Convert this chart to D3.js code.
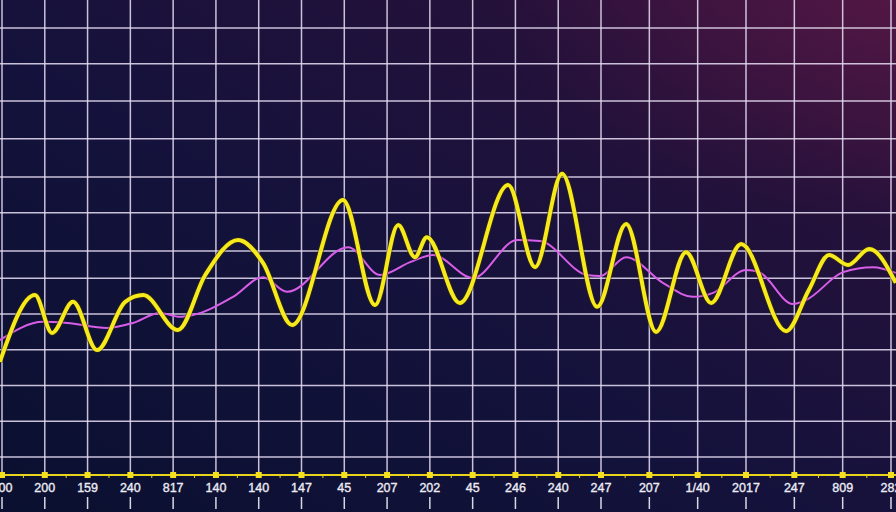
<!DOCTYPE html>
<html>
<head>
<meta charset="utf-8">
<script src="https://cdn.jsdelivr.net/npm/d3@7/dist/d3.min.js"></script>
<style>
  html, body { margin: 0; padding: 0; background: #0b1130; }
  svg { display: block; }
</style>
</head>
<body>
<svg id="chart" width="896" height="512"></svg>
<script>
// ---- data ----
const categories = ["100","200","159","240","817","140","140","147","45","207","202","45","246","240","247","207","1/40","2017","247","809","282"];
const yGridValues = [0, 10, 20, 30, 40, 50, 57.6, 68.3, 78.3, 89, 99.6, 110, 120];

// yellow series: position (category index units) and value
const yellowPos = [-0.05, 0.77, 1.17, 1.66, 2.22, 2.88, 3.30, 4.11, 4.75, 5.52, 6.10, 6.78, 7.97, 8.72, 9.26, 9.65, 9.93, 10.70, 11.83, 12.46, 13.09, 13.91, 14.52, 15.14, 15.76, 16.28, 16.90, 17.83, 18.30, 18.72, 19.11, 19.55, 20.10];
const yellowVal = [26.6, 45.3, 34.7, 43.4, 29.9, 43.4, 45.3, 35.5, 50.9, 60.7, 54.3, 36.9, 71.9, 42.5, 64.9, 55.9, 61.5, 43.1, 76.1, 53.1, 79.2, 42.0, 65.2, 35.0, 57.3, 43.1, 59.6, 35.2, 46.7, 56.5, 53.7, 58.2, 48.7];

// magenta series
const magentaPos = [-0.05, 0.96, 1.52, 2.45, 3.06, 3.69, 4.16, 4.46, 5.40, 6.10, 6.66, 8.09, 8.84, 9.54, 10.07, 11.01, 12.04, 12.57, 13.67, 13.98, 14.52, 15.28, 15.90, 16.32, 17.00, 17.27, 17.97, 18.24, 19.01, 19.63, 20.10];
const magentaVal = [32.7, 37.8, 37.5, 36.1, 37.5, 40.3, 39.2, 39.7, 44.8, 50.3, 46.2, 58.7, 50.9, 54.5, 56.5, 50.1, 60.7, 60.4, 50.9, 50.6, 55.9, 48.7, 44.8, 45.9, 52.3, 51.7, 42.8, 43.9, 51.7, 53.1, 51.5];

// ---- layout ----
const W = 896, H = 512;
const svg = d3.select("#chart");
const axisY = 475;

const x = d3.scaleLinear().domain([0, 14, 20]).range([2, 601, 891]);
const y = d3.scaleLinear().domain([0, 120]).range([457, 28]);

// background gradient
const defs = svg.append("defs");
const lg = defs.append("linearGradient").attr("id", "bg")
  .attr("x1", "0").attr("y1", "1").attr("x2", "1").attr("y2", "0");
lg.append("stop").attr("offset", "0").attr("stop-color", "#0a1030");
lg.append("stop").attr("offset", "0.45").attr("stop-color", "#14123c");
lg.append("stop").attr("offset", "0.78").attr("stop-color", "#24113a");
lg.append("stop").attr("offset", "1").attr("stop-color", "#3e1440");
svg.append("rect").attr("width", W).attr("height", H).attr("fill", "url(#bg)");

const rg = defs.append("radialGradient").attr("id", "glowTR")
  .attr("cx", "1").attr("cy", "0").attr("r", "0.45");
rg.append("stop").attr("offset", "0").attr("stop-color", "#6a1a48").attr("stop-opacity", 0.45);
rg.append("stop").attr("offset", "1").attr("stop-color", "#6a1a48").attr("stop-opacity", 0);
svg.append("rect").attr("width", W).attr("height", H).attr("fill", "url(#glowTR)");

// grid
const grid = svg.append("g").attr("stroke", "#e2daf0").attr("stroke-opacity", 0.88).attr("stroke-width", 1.5);
grid.selectAll("line.h").data(yGridValues).join("line").attr("class", "h")
  .attr("x1", 0).attr("x2", W).attr("y1", d => y(d)).attr("y2", d => y(d));
grid.selectAll("line.v").data(categories).join("line").attr("class", "v")
  .attr("x1", (d, i) => x(i)).attr("x2", (d, i) => x(i)).attr("y1", 0).attr("y2", axisY - 2);

// lines
const magentaData = magentaPos.map((p, i) => [p, magentaVal[i]]);
const yellowData = yellowPos.map((p, i) => [p, yellowVal[i]]);
const line = d3.line().x(d => x(d[0])).y(d => y(d[1])).curve(d3.curveMonotoneX);

svg.append("path").datum(magentaData).attr("d", line)
  .attr("fill", "none").attr("stroke", "#d85ee8").attr("stroke-width", 2);

svg.append("path").datum(yellowData).attr("d", line)
  .attr("fill", "none").attr("stroke", "#3a3000").attr("stroke-opacity", 0.5).attr("stroke-width", 6);
svg.append("path").datum(yellowData).attr("d", line)
  .attr("fill", "none").attr("stroke", "#f7ea1c").attr("stroke-width", 4).attr("stroke-linejoin", "round");

// x axis
const ax = svg.append("g");
ax.append("line").attr("x1", 0).attr("x2", W).attr("y1", axisY).attr("y2", axisY)
  .attr("stroke", "#e8d41c").attr("stroke-width", 2);
// minor ticks
const mids = d3.range(categories.length).map(i => i + 0.5).filter(v => v < categories.length - 1);
ax.selectAll("line.minor").data(mids).join("line").attr("class", "minor")
  .attr("x1", d => x(d)).attr("x2", d => x(d)).attr("y1", axisY).attr("y2", axisY + 3)
  .attr("stroke", "#e8d41c").attr("stroke-width", 1);
// major markers
ax.selectAll("rect.major").data(categories).join("rect").attr("class", "major")
  .attr("x", (d, i) => x(i) - 3).attr("y", axisY - 3).attr("width", 6).attr("height", 6)
  .attr("fill", "#f5e020");
// labels
ax.selectAll("text").data(categories).join("text")
  .attr("x", (d, i) => x(i)).attr("y", 492)
  .attr("text-anchor", "middle")
  .attr("font-family", "'Liberation Sans', Arial, sans-serif")
  .attr("font-size", 12.5)
  .attr("fill", "#ececf4").attr("stroke", "#ececf4").attr("stroke-width", 0.35)
  .text(d => d);
// white ticks below labels
ax.selectAll("line.low").data(categories).join("line").attr("class", "low")
  .attr("x1", (d, i) => x(i)).attr("x2", (d, i) => x(i)).attr("y1", 497).attr("y2", 509)
  .attr("stroke", "#d8d8e4").attr("stroke-width", 1.5);
</script>
</body>
</html>
